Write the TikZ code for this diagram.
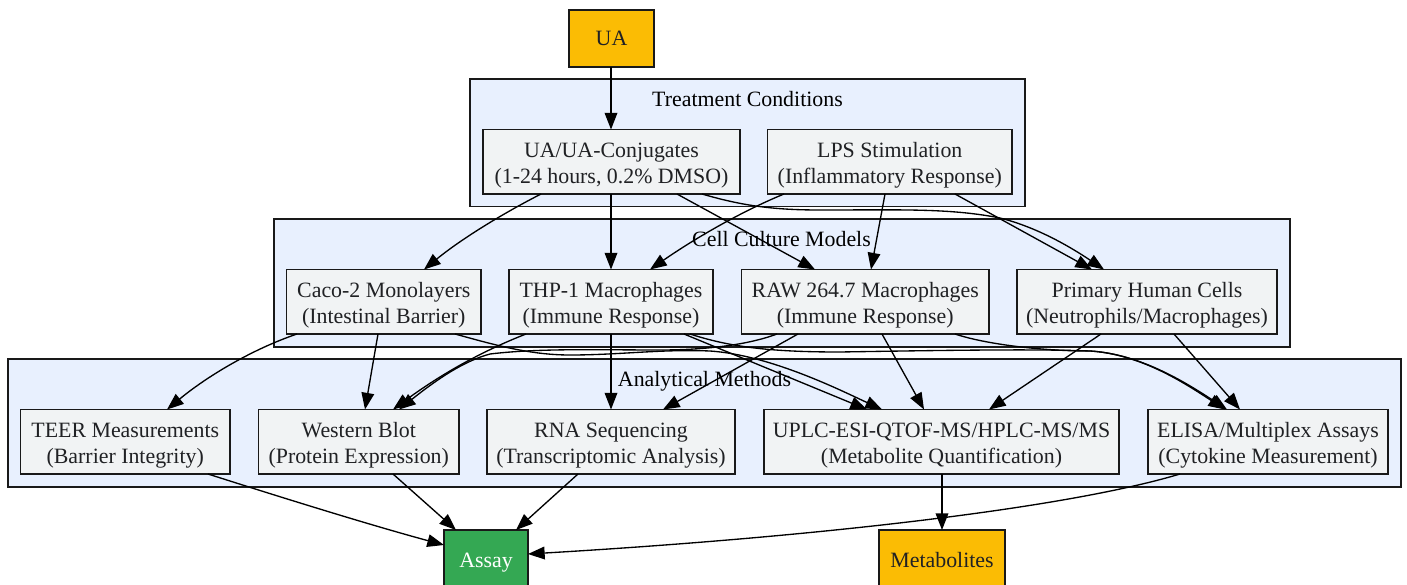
\documentclass[tikz,border=0pt]{standalone}
\usepackage{fontspec}
\setmainfont{Liberation Serif}
\usetikzlibrary{arrows.meta}
\tikzset{
  base/.style={draw=black!90,line width=0.9pt,inner sep=0pt,outer sep=0pt,align=center,font=\fontsize{16.4}{19.5}\selectfont},
  clus/.style={base,fill=clusblue},
  proc/.style={base,fill=procgrey,text=txtdark},
  inout/.style={base,fill=uayellow,text=txtdark,text height=13.5pt,text depth=2.5pt},
  assay/.style={base,fill=assaygreen,text=white,text height=13.5pt,text depth=2.5pt},
  title/.style={inner sep=0pt,font=\fontsize{16.4}{19.5}\selectfont,text=black,text height=13.5pt,text depth=2.5pt},
  e/.style={draw=black,line width=1pt,-{Triangle[length=12.5pt,width=9.5pt]}},
}
\definecolor{clusblue}{HTML}{E8F0FE}
\definecolor{procgrey}{HTML}{F1F3F4}
\definecolor{uayellow}{HTML}{FBBC04}
\definecolor{assaygreen}{HTML}{34A853}
\definecolor{txtdark}{HTML}{202124}
\newcommand{\bx}[7]{%
  \pgfmathsetmacro{\boxcx}{(#3+#5)/2}\pgfmathsetmacro{\boxcy}{(#4+#6)/2}%
  \pgfmathsetlengthmacro{\boxw}{(#5-#3)*0.75pt}\pgfmathsetlengthmacro{\boxh}{(#6-#4)*0.75pt}%
  \node[#2,minimum width=\boxw,minimum height=\boxh] (#1) at (\boxcx,\boxcy) {#7};}
\newcommand{\fl}{\rule{0pt}{16.5pt}}
\begin{document}
\begin{tikzpicture}[x=0.75pt,y=-0.75pt]
\clip (0,0) rectangle (1407,585);
\fill[white] (0,0) rectangle (1407,585);
\bx{ctreat}{clus}{470}{79}{1025}{206.5}{}
\bx{ccell}{clus}{274}{219}{1290}{347}{}
\bx{cana}{clus}{8}{359}{1401}{487}{}
\node[title] (ttreat) at (747.5,99) {Treatment Conditions};
\node[title] (tcell) at (781.5,239) {Cell Culture Models};
\node[title] (tana) at (704.5,379) {Analytical Methods};
\bx{ua}{inout}{569}{10}{654}{67}{UA}
\bx{uac}{proc}{483}{129.5}{740}{194}{\fl UA/UA-Conjugates\\(1-24 hours, 0.2\% DMSO)}
\bx{lps}{proc}{767.5}{129.5}{1012}{194}{\fl LPS Stimulation\\(Inflammatory Response)}
\bx{caco}{proc}{286.5}{269.5}{481}{334}{\fl Caco-2 Monolayers\\(Intestinal Barrier)}
\bx{thp}{proc}{509}{269.5}{713}{334}{\fl THP-1 Macrophages\\(Immune Response)}
\bx{raw}{proc}{741.5}{269.5}{989}{334}{\fl RAW 264.7 Macrophages\\(Immune Response)}
\bx{prim}{proc}{1017}{269.5}{1277}{334}{\fl Primary Human Cells\\(Neutrophils/Macrophages)}
\bx{teer}{proc}{20.5}{409.5}{230}{474}{\fl TEER Measurements\\(Barrier Integrity)}
\bx{wb}{proc}{258.5}{409.5}{459}{474}{\fl Western Blot\\(Protein Expression)}
\bx{rna}{proc}{487}{409.5}{735}{474}{\fl RNA Sequencing\\(Transcriptomic Analysis)}
\bx{uplc}{proc}{764}{409.5}{1119}{474}{\fl UPLC-ESI-QTOF-MS/HPLC-MS/MS\\(Metabolite Quantification)}
\bx{elisa}{proc}{1148}{409.5}{1388}{474}{\fl ELISA/Multiplex Assays\\(Cytokine Measurement)}
\bx{assayn}{assay}{444}{530}{528}{590}{Assay}
\bx{met}{inout}{879}{530}{1005}{590}{Metabolites}
% top layer
\draw[e] (611,0 |- ua.south) -- (611,0 |- uac.north);
\draw[e] (541,0 |- uac.south) .. controls (500,215) and (460,240) .. (424,0 |- caco.north);
\draw[e] (611,0 |- uac.south) -- (611,0 |- thp.north);
\draw[e] (677,0 |- uac.south) -- (815,0 |- raw.north);
\draw[e] (702,0 |- uac.south) .. controls (740,205) and (770,210) .. (820,210) .. controls (900,210) and (950,208) .. (1000,218) .. controls (1040,228) and (1075,250) .. (1104,0 |- prim.north);
\draw[e] (784,0 |- lps.south) .. controls (745,210) and (700,235) .. (650,0 |- thp.north);
\draw[e] (885,0 |- lps.south) -- (871,0 |- raw.north);
\draw[e] (955,0 |- lps.south) -- (1092,0 |- prim.north);
% layer 2
\draw[e] (297,0 |- caco.south) .. controls (250,350) and (205,378) .. (167,0 |- teer.north);
\draw[e] (378,0 |- caco.south) -- (365,0 |- wb.north);
\draw[e] (455,0 |- caco.south) .. controls (495,345) and (530,355) .. (570,355) .. controls (620,355) and (660,349) .. (710,351) .. controls (770,355) and (840,390) .. (882,0 |- uplc.north);
\draw[e] (526,0 |- thp.south) .. controls (480,352) and (440,375) .. (393,0 |- wb.north);
\draw[e] (777,0 |- raw.south) .. controls (745,346) and (700,350) .. (660,350) .. controls (600,350) and (540,348) .. (490,354) .. controls (460,362) and (430,385) .. (399,0 |- wb.north);
\draw[e] (611,0 |- thp.south) -- (611,0 |- rna.north);
\draw[e] (798,0 |- raw.south) -- (663,0 |- rna.north);
\draw[e] (684,0 |- thp.south) -- (867,0 |- uplc.north);
\draw[e] (882,0 |- raw.south) -- (924,0 |- uplc.north);
\draw[e] (1101,0 |- prim.south) -- (989,0 |- uplc.north);
\draw[e] (1174,0 |- prim.south) -- (1240,0 |- elisa.north);
\draw[e] (955,0 |- raw.south) .. controls (985,344) and (1040,351) .. (1090,351) .. controls (1140,354) and (1185,382) .. (1227,0 |- elisa.north);
\draw[e] (690,0 |- thp.south) .. controls (730,347) and (770,352) .. (840,352) .. controls (960,350) and (1040,349) .. (1090,351) .. controls (1140,354) and (1183,382) .. (1225,0 |- elisa.north);
% layer 3
\draw[e] (208,0 |- teer.south) .. controls (280,497) and (370,525) .. (444,545);
\draw[e] (393,0 |- wb.south) -- (456,0 |- assayn.north);
\draw[e] (578,0 |- rna.south) -- (516,0 |- assayn.north);
\draw[e] (942,0 |- uplc.south) -- (942,0 |- met.north);
\draw[e] (1180,0 |- elisa.south) .. controls (1060,510) and (800,538) .. (528,554);
\end{tikzpicture}
\end{document}
